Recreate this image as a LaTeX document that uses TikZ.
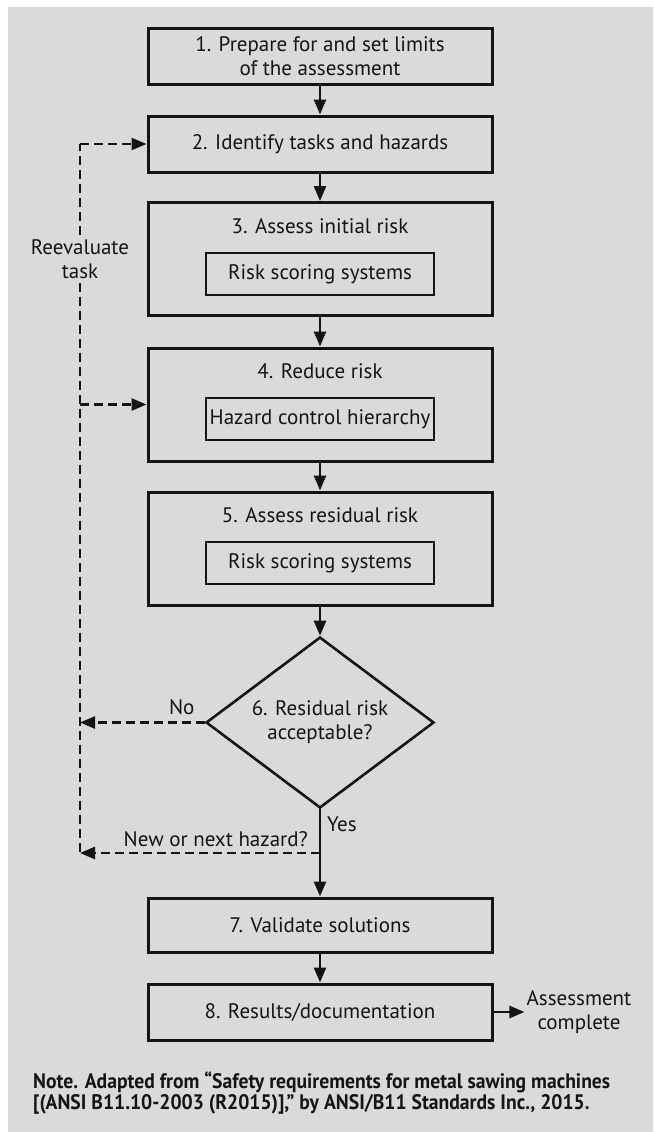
\documentclass[tikz,border=0pt]{standalone}
\usepackage{fontspec}
\setmainfont{PT Sans}
\newfontfamily\notefont[FakeStretch=0.935]{PT Sans}
\usetikzlibrary{arrows.meta,shapes.geometric,positioning}
\definecolor{panelgray}{HTML}{DADADA}
\definecolor{ink}{HTML}{141414}

\begin{document}
\begin{tikzpicture}[x=1pt,y=-1pt,>={Triangle[length=15pt,width=12pt]},
	every node/.style={font=\fontsize{21}{24}\selectfont,text=ink},
	stepbox/.style={draw=ink,line width=3pt,minimum width=344pt,align=center,inner sep=0pt},
	subbox/.style={draw=ink,line width=2.6pt,minimum width=228pt,minimum height=42pt,inner sep=0pt},
	flow/.style={->,draw=ink,line width=2.6pt},
	back/.style={draw=ink,line width=2.6pt,dash pattern=on 9pt off 5pt}]

	% panel behind the chart
	\fill[white] (0,0) rectangle (653,1132);
	\fill[panelgray] (8,7) rectangle (653,1132);

	% the main steps
	\node[stepbox,minimum height=55pt] (s1) at (320,56.5) {1. Prepare for and set limits\\of the assessment};
	\node[stepbox,minimum height=56pt] (s2) at (320,144) {2. Identify tasks and hazards};

	\node[stepbox,minimum height=113pt] (s3) at (320,259) {};
	\node (t3) at (320,226) {3. Assess initial risk};
	\node[subbox] (r3) at (320,274) {Risk scoring systems};

	\node[stepbox,minimum height=113pt] (s4) at (320,404.5) {};
	\node (t4) at (320,371) {4. Reduce risk};
	\node[subbox] (r4) at (320,419) {Hazard control hierarchy};

	\node[stepbox,minimum height=113pt] (s5) at (320,548.5) {};
	\node (t5) at (320,515) {5. Assess residual risk};
	\node[subbox] (r5) at (320,563) {Risk scoring systems};

	% the decision
	\node[diamond,draw=ink,line width=2.6pt,align=center,inner sep=0pt,
		minimum width=228pt,minimum height=171pt,shape aspect=1.33] (d6) at (320,722.5)
		{6. Residual risk\\acceptable?};

	\node[stepbox,minimum height=54pt] (s7) at (320,925) {7. Validate solutions};
	\node[stepbox,minimum height=56pt] (s8) at (320,1012) {8. Results/documentation};
	\node[align=center,inner sep=2pt] (done) at (579,1012) {Assessment\\complete};

	% forward arrows
	\draw[flow] (s1) -- (s2);
	\draw[flow] (s2) -- (s3);
	\draw[flow] (s3) -- (s4);
	\draw[flow] (s4) -- (s5);
	\draw[flow] (s5) -- (d6);
	\draw[flow] (d6) -- (s7);
	\draw[flow] (s7) -- (s8);
	\draw[flow] (s8) -- (done);

	% the loop back on the left
	\coordinate (top) at (80,144);
	\coordinate (mid) at (top |- s4);
	\coordinate (nojoin) at (top |- d6.west);
	\coordinate (bot) at (80,853);
	\coordinate (fork) at (320,853);
	\node[fill=panelgray,align=center,inner sep=4pt] (re) at (80,259) {Reevaluate\\task};

	\draw[back] (re.north) -- (top);
	\draw[back] (re.south) -- (bot);
	\draw[back,->] (top) -- (s2);
	\draw[back,->] (mid) -- (s4);
	\draw[back,->] (d6.west) -- (nojoin);
	\draw[back,->] (fork) -- (bot);

	% answers
	\node[anchor=south east,inner sep=0pt] (no) at ([xshift=-10pt,yshift=8pt]d6.west) {No};
	\node[anchor=base west,inner sep=0pt] (yes) at ([xshift=7pt,yshift=-22pt]d6.south) {Yes};
	\node[anchor=south east,inner sep=0pt] (next) at ([xshift=-12pt,yshift=6pt]fork) {New or next hazard?};

	% source note
	\node[anchor=west,align=left,inner sep=0pt,font=\notefont\bfseries\fontsize{21}{21}\selectfont] (note) at (33,1093)
		{Note. Adapted from “Safety requirements for metal sawing machines\\
		{[}(ANSI B11.10-2003 (R2015)],” by ANSI/B11 Standards Inc., 2015.};
\end{tikzpicture}
\end{document}
